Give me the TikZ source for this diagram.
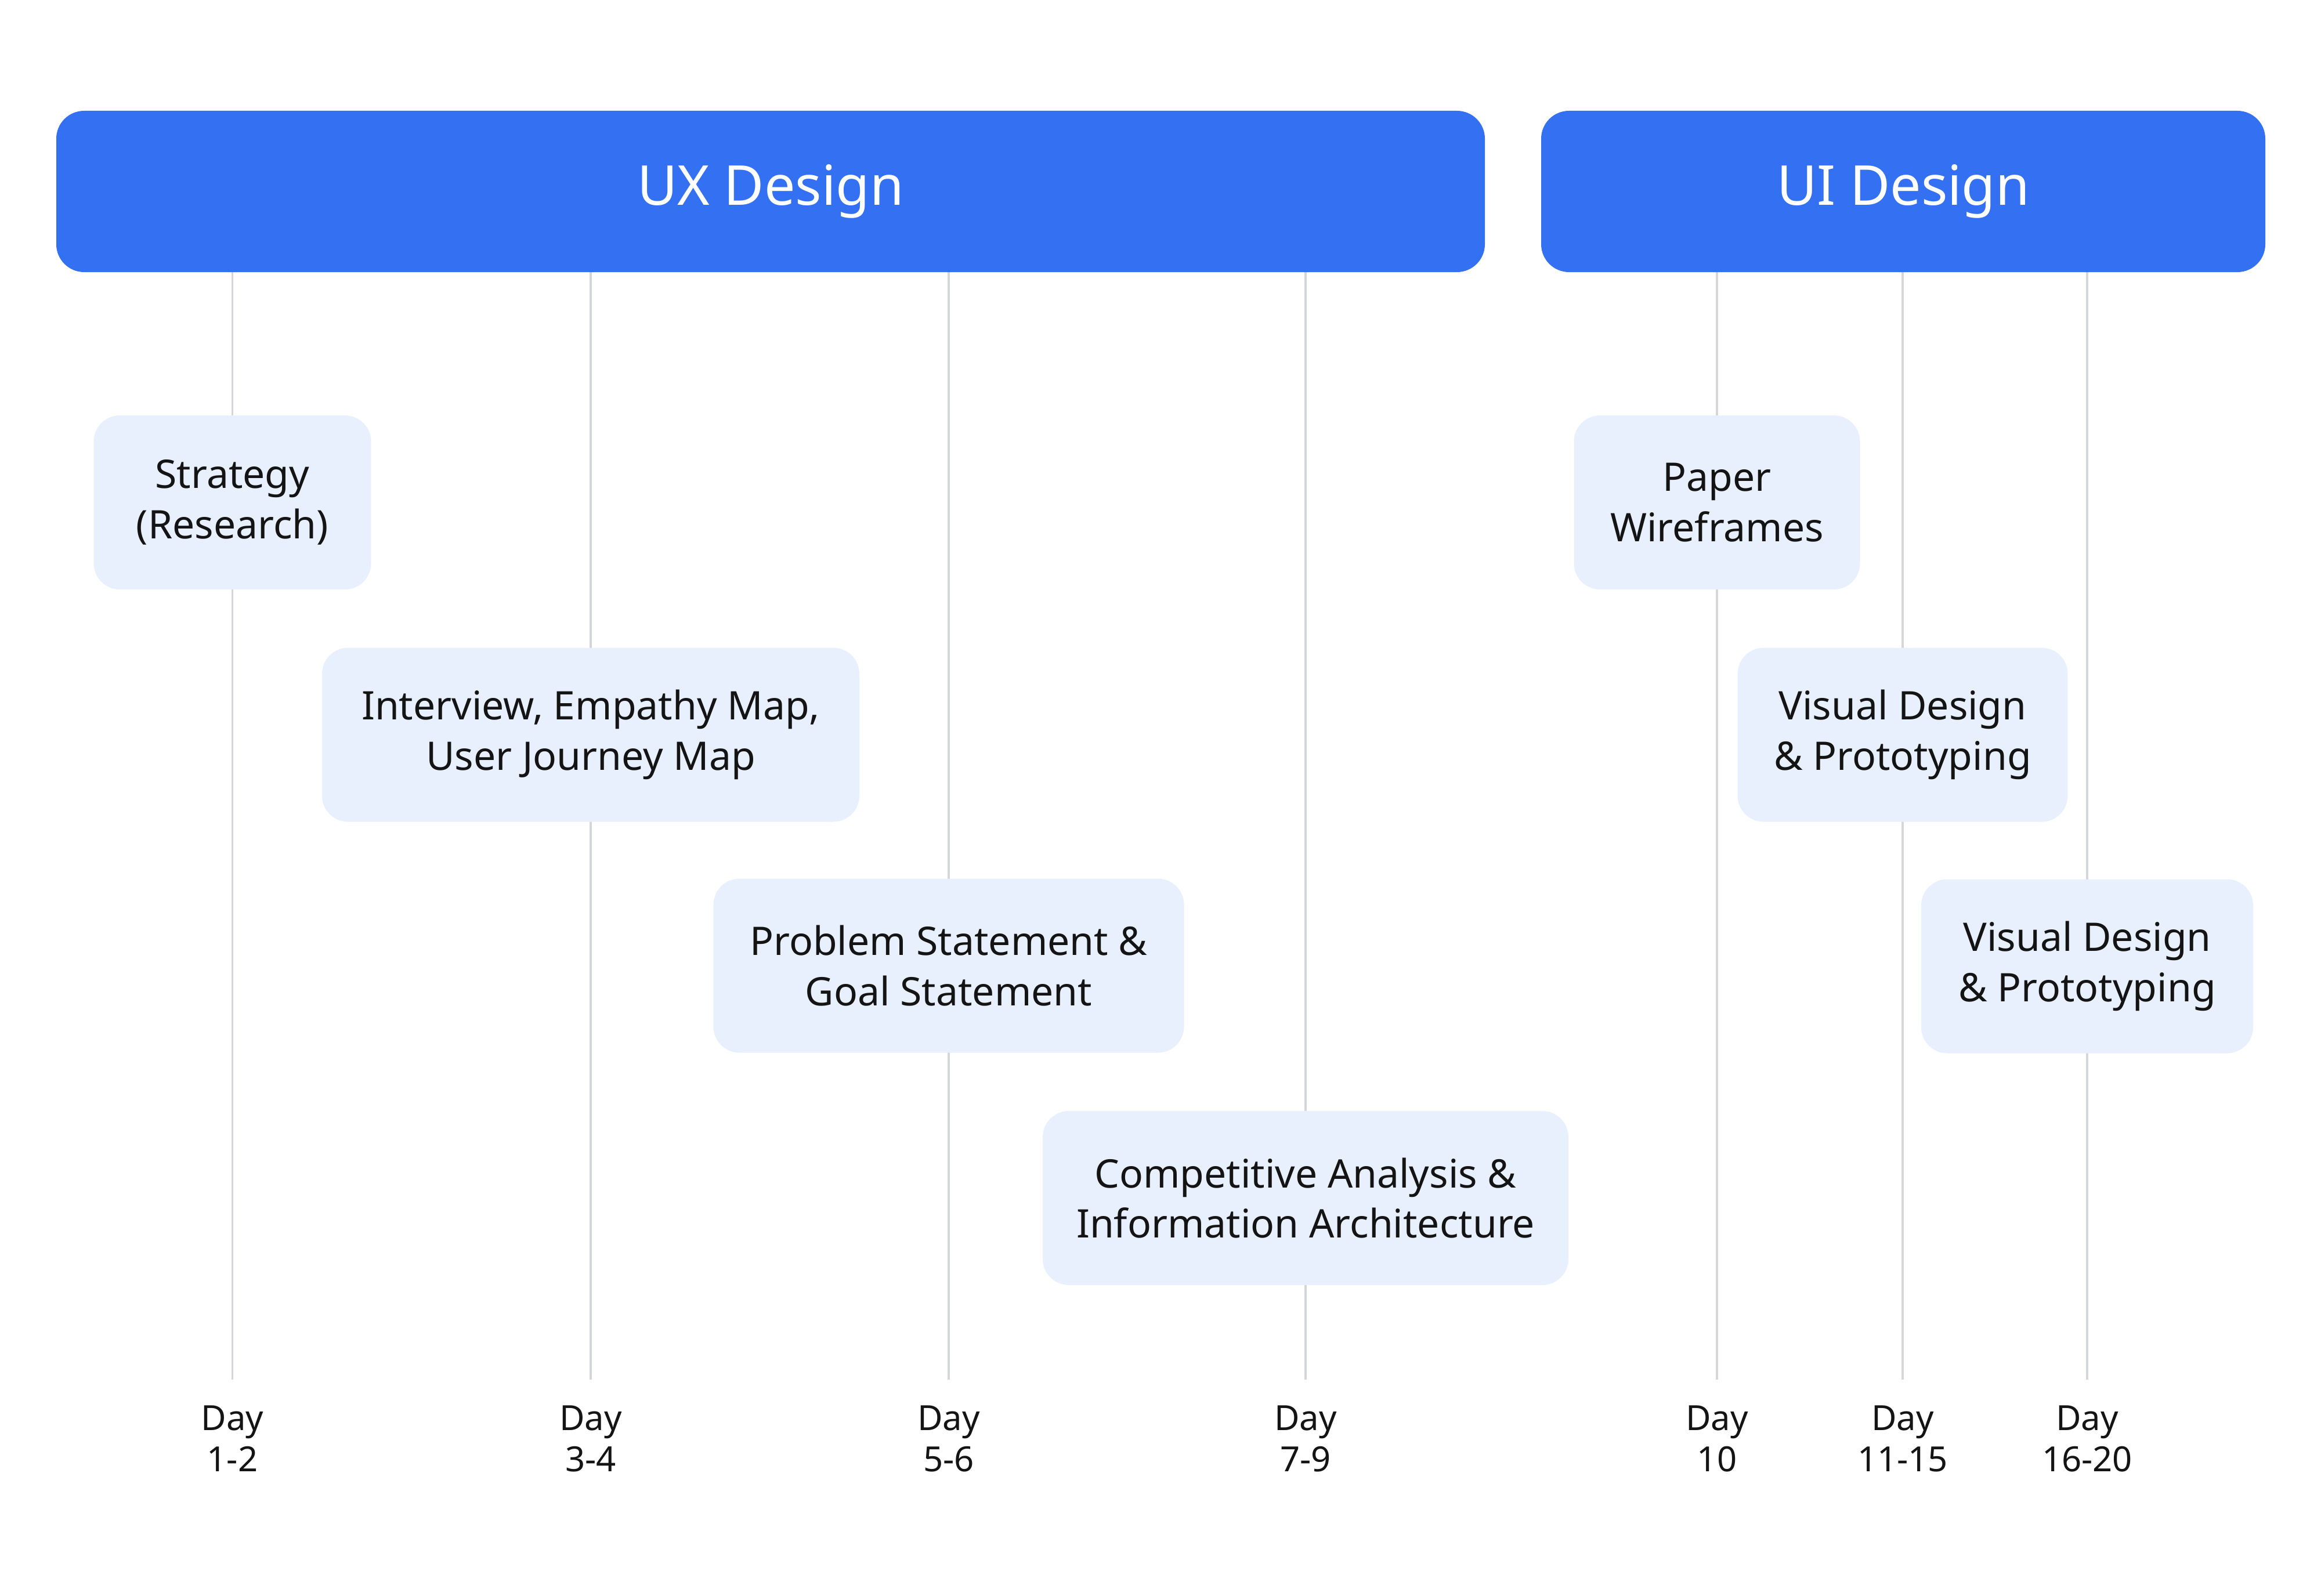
\documentclass[tikz,border=0pt]{standalone}
\usepackage{fontspec}
\setmainfont{Noto Sans}
\definecolor{barblue}{HTML}{3370F2}
\definecolor{boxfill}{HTML}{E8F0FD}
\definecolor{gridgray}{HTML}{D4D6DA}
\definecolor{ink}{HTML}{141414}
\begin{document}
\begin{tikzpicture}[
  bar/.style={fill=barblue, rounded corners=0.48cm, text=white, font=\fontsize{27}{32}\selectfont, inner sep=0pt},
  task/.style={fill=boxfill, rounded corners=0.45cm, text=ink, align=center, font=\fontsize{19.3}{24.7}\selectfont, inner sep=0pt},
  daylbl/.style={text=ink, align=center, font=\fontsize{17}{20.2}\selectfont, inner sep=0pt},
  grid/.style={draw=gridgray, line width=1pt}
]
\useasboundingbox[fill=white] (0,0) rectangle (40,-27.51);
% timeline guide coordinates
\foreach \n/\x in {1/4.005, 2/10.18, 3/16.35, 4/22.5, 5/29.59, 6/32.79, 7/35.97}{
  \coordinate (t\n) at (\x,-4.6);
  \coordinate (b\n) at (\x,-23.78);
}
\foreach \n in {1,...,7}{ \draw[grid] (t\n) -- (b\n); }
% phase bars
\node[bar, minimum width=24.62cm, minimum height=2.78cm] (ux) at (13.28,-3.30) {UX Design};
\node[bar, minimum width=12.48cm, minimum height=2.78cm] (ui) at (32.80,-3.30) {UI Design};
% tasks
\node[task, minimum width=4.78cm, minimum height=3.0cm] (strategy) at (4.005,-8.66) {Strategy\\(Research)};
\node[task, minimum width=9.26cm, minimum height=3.0cm] (interview) at (10.18,-12.665) {Interview, Empathy Map,\\User Journey Map};
\node[task, minimum width=8.11cm, minimum height=3.0cm] (problem) at (16.35,-16.645) {Problem Statement \&\\Goal Statement};
\node[task, minimum width=9.06cm, minimum height=3.0cm] (compet) at (22.5,-20.65) {Competitive Analysis \&\\Information Architecture};
\node[task, minimum width=4.93cm, minimum height=3.0cm] (paper) at (29.59,-8.66) {Paper\\Wireframes};
\node[task, minimum width=5.69cm, minimum height=3.0cm] (visual1) at (32.79,-12.665) {Visual Design\\\& Prototyping};
\node[task, minimum width=5.72cm, minimum height=3.0cm] (visual2) at (35.97,-16.655) {Visual Design\\\& Prototyping};
% day labels
\node[daylbl] (d1) at (4.005,-24.8) {Day\\1-2};
\node[daylbl] (d2) at (10.18,-24.8) {Day\\3-4};
\node[daylbl] (d3) at (16.35,-24.8) {Day\\5-6};
\node[daylbl] (d4) at (22.5,-24.8) {Day\\7-9};
\node[daylbl] (d5) at (29.59,-24.8) {Day\\10};
\node[daylbl] (d6) at (32.79,-24.8) {Day\\11-15};
\node[daylbl] (d7) at (35.97,-24.8) {Day\\16-20};
\end{tikzpicture}
\end{document}
